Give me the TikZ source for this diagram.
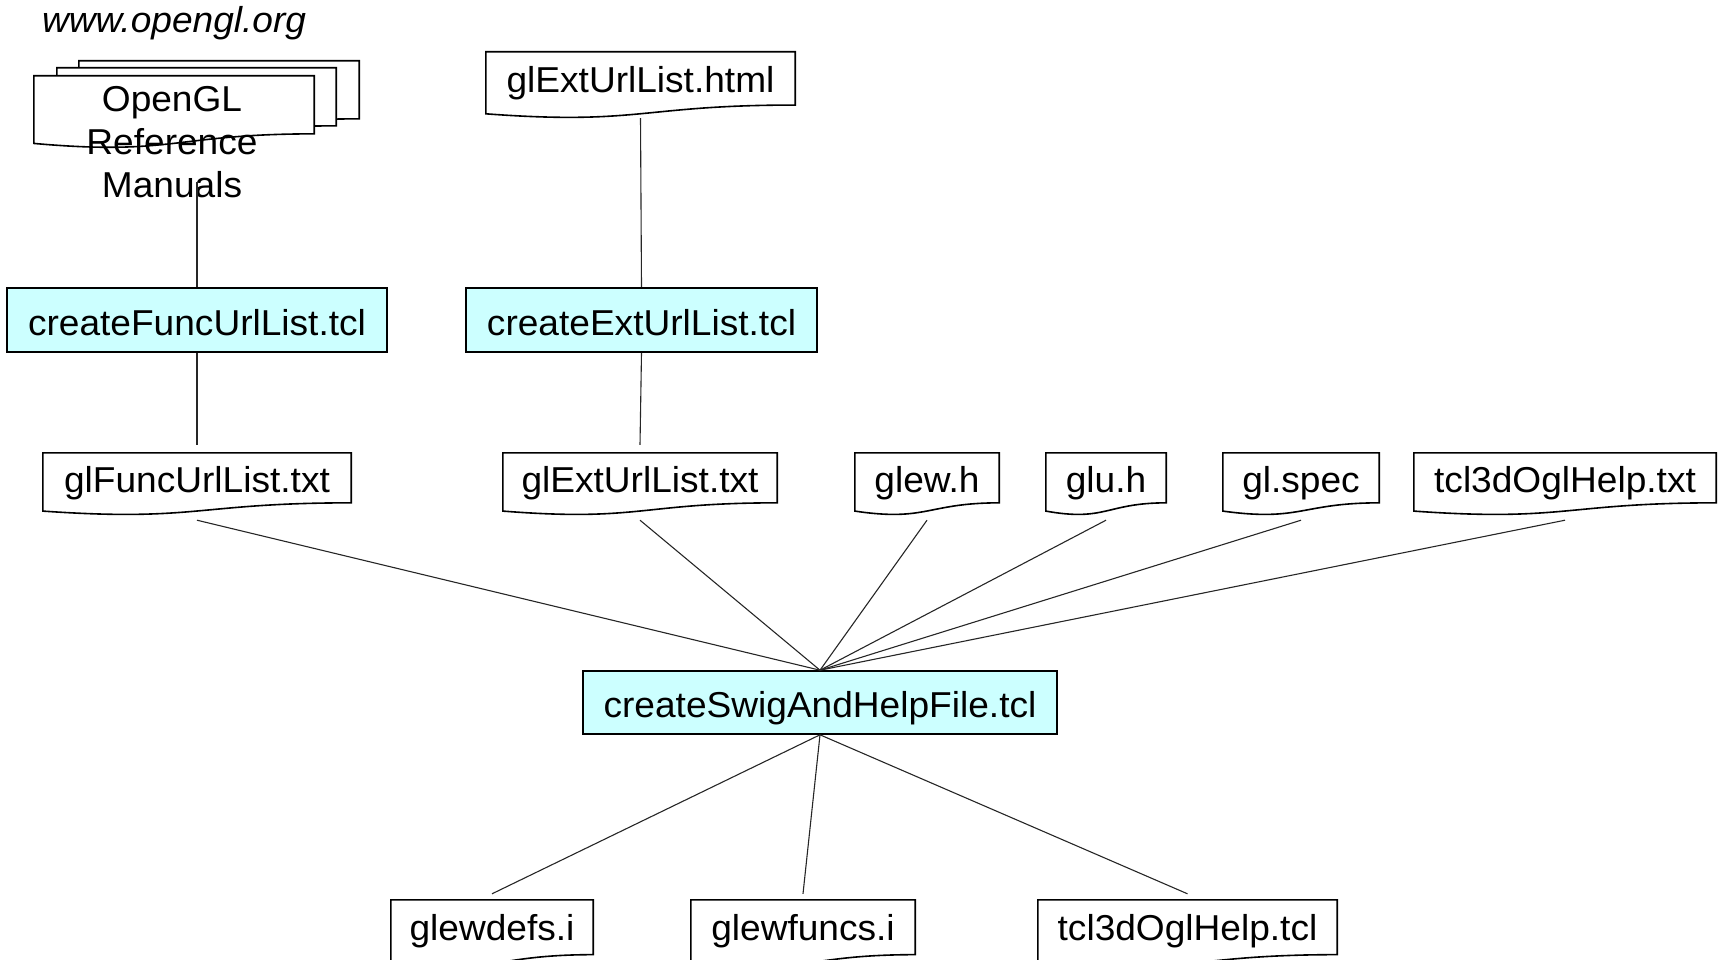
\documentclass[tikz,border=0pt]{standalone}
\usepackage{fontspec}
\setmainfont{Liberation Sans}[FakeStretch=1.03]
\usetikzlibrary{calc,backgrounds}
\definecolor{proccyan}{RGB}{204,255,255}
\tikzset{
  every node/.style={font=\fontsize{36}{43}\selectfont, inner sep=0pt},
  proc/.style={draw=black, line width=1.6pt, fill=proccyan, rectangle, text height=30pt, text depth=0pt},
  docnode/.style={rectangle, text height=16pt, text depth=0pt},
  docline/.style={draw=black, line width=1.6pt, fill=white},
  conn/.style={draw=black!85, line width=1.1pt},
}
\newcommand{\docshape}[1]{\path[docline] (#1.north west) -- (#1.north east) -- ($(#1.north east)!0.802!(#1.south east)$) .. controls ($(#1.north)!0.802!(#1.south)$) and ($(#1.north)!1.1075!(#1.south)$) .. ($(#1.north west)!0.934!(#1.south west)$) -- cycle;}
\begin{document}
\begin{tikzpicture}[x=1pt,y=-1pt]
\useasboundingbox (0,0) rectangle (1721,960);
% multi-document
\node[docnode, minimum width=280pt, minimum height=72pt] (m3) at (219,97) {};
\node[docnode, minimum width=279pt, minimum height=72pt] (m2) at (196.5,104) {};
\node[docnode, minimum width=280pt, minimum height=72pt] (m1) at (174,112) {};
\node[align=center] (ogl) at (172,142) {OpenGL\\Reference\\Manuals};
\node[anchor=base west] (url) at (42,33) {\itshape www.opengl.org};
\coordinate (oglout) at (197,182);
% process boxes
\node[proc, minimum width=380pt, minimum height=64pt] (func) at (197,320) {createFuncUrlList.tcl};
\node[proc, minimum width=351pt, minimum height=64pt] (ext) at (641.5,320) {createExtUrlList.tcl};
\node[proc, minimum width=474pt, minimum height=63pt] (swig) at (820,702.5) {createSwigAndHelpFile.tcl};
% documents
\node[docnode, text height=15pt, minimum width=309pt, minimum height=66pt] (html) at (640.5,85) {glExtUrlList.html};
\node[docnode, minimum width=308pt, minimum height=62pt] (gft) at (197,484) {glFuncUrlList.txt};
\node[docnode, minimum width=274pt, minimum height=62pt] (gxt) at (640,484) {glExtUrlList.txt};
\node[docnode, minimum width=144pt, minimum height=62pt] (glew) at (927,484) {glew.h};
\node[docnode, minimum width=120pt, minimum height=62pt] (glu) at (1106,484) {glu.h};
\node[docnode, minimum width=156pt, minimum height=62pt] (glspec) at (1301,484) {gl.spec};
\node[docnode, minimum width=302pt, minimum height=62pt] (tcltxt) at (1565,484) {tcl3dOglHelp.txt};
\node[docnode, text height=12pt, minimum width=202pt, minimum height=68pt] (gdefs) at (492,934) {glewdefs.i};
\node[docnode, text height=12pt, minimum width=224pt, minimum height=68pt] (gfuncs) at (803,934) {glewfuncs.i};
\node[docnode, text height=12pt, minimum width=299pt, minimum height=68pt] (tcltcl) at (1187.5,934) {tcl3dOglHelp.tcl};
\begin{pgfonlayer}{background}
  \foreach \n in {m3,m2,m1,html,gft,gxt,glew,glu,glspec,tcltxt,gdefs,gfuncs,tcltcl} {\docshape{\n}}
\end{pgfonlayer}
% connectors
\draw[conn] (oglout) -- (func.north);
\draw[conn] (func.south) -- ([yshift=8pt]gft.north);
\draw[conn] (html.south) -- (ext.north);
\draw[conn] (ext.south) -- ([yshift=8pt]gxt.north);
\foreach \n in {gft,gxt,glew,glu,glspec,tcltxt} {\draw[conn] ([yshift=-5pt]\n.south) -- (swig.north);}
\foreach \n in {gdefs,gfuncs,tcltcl} {\draw[conn] (swig.south) -- ([yshift=6pt]\n.north);}
\end{tikzpicture}
\end{document}
